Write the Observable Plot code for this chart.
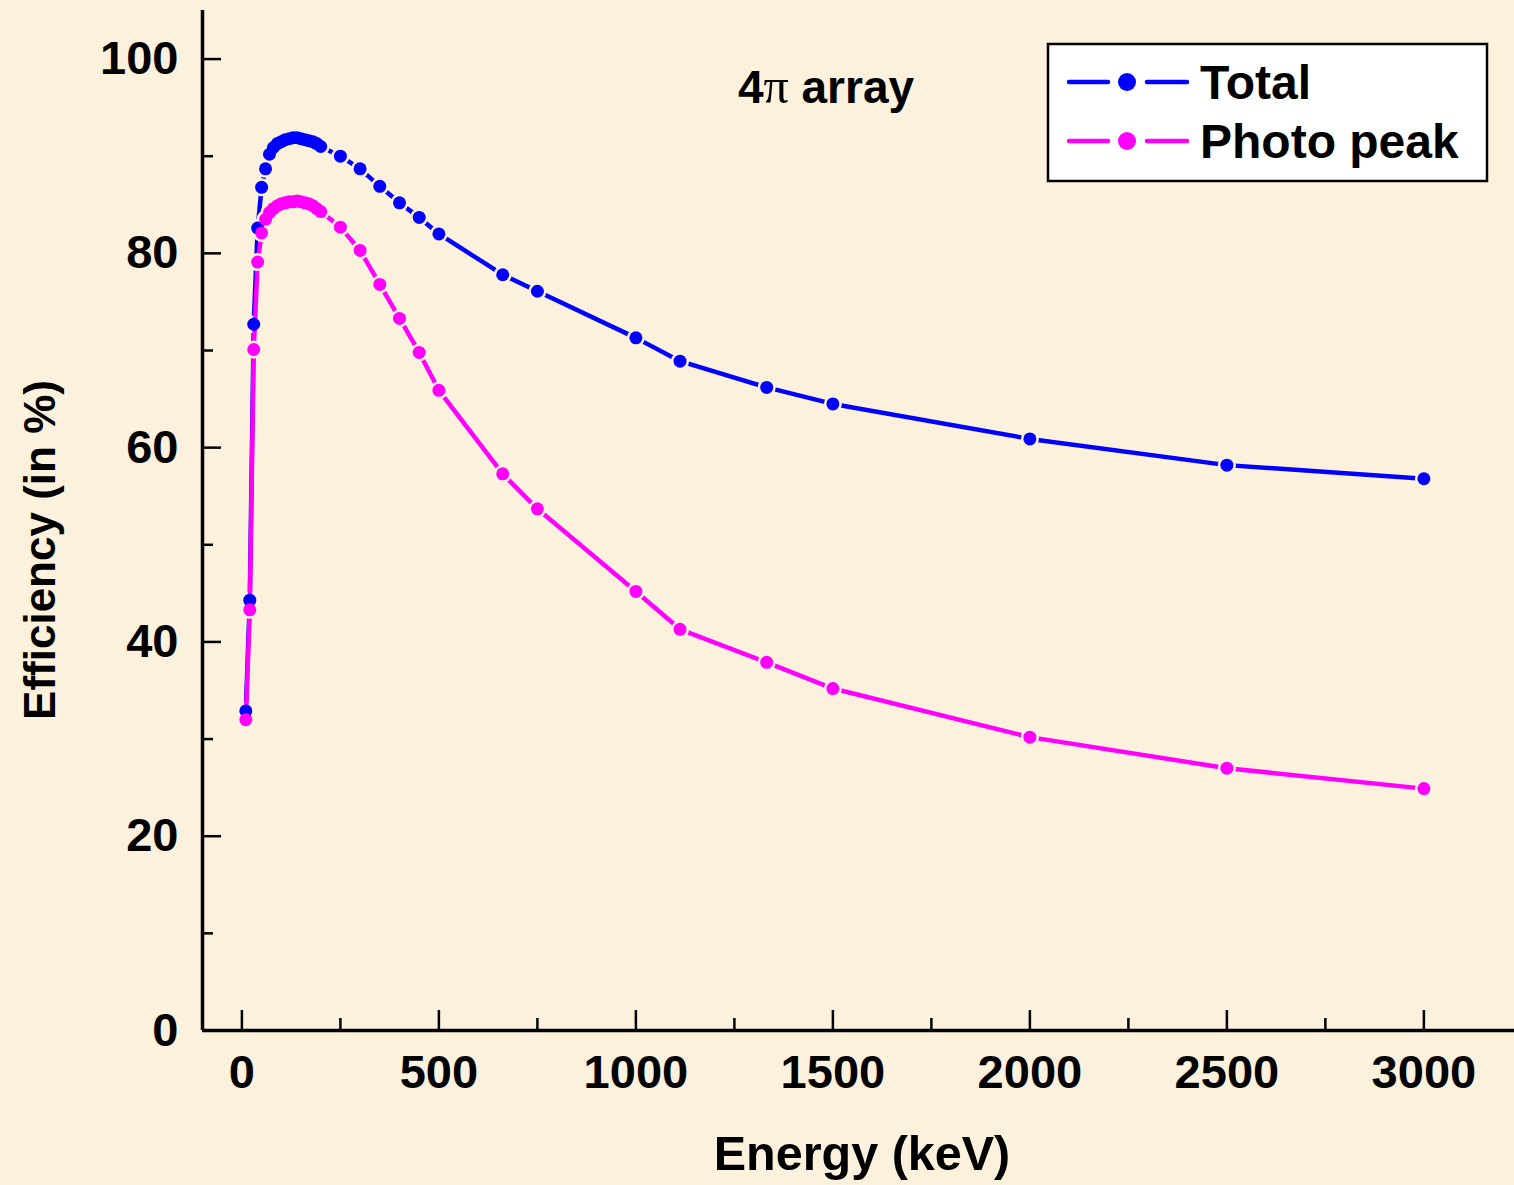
<!DOCTYPE html>
<html><head><meta charset="utf-8">
<script src="https://cdn.jsdelivr.net/npm/d3@7"></script>
<script src="https://cdn.jsdelivr.net/npm/@observablehq/plot@0.6"></script>
<style>
html,body{margin:0;padding:0;background:#FCF1DC;}
#chart{position:relative;width:1514px;height:1185px;}
</style></head><body><div id="chart"></div>
<script>
// ---- data ----
const energy   = [10,20,30,40,50,60,70,80,90,100,110,120,130,140,150,160,170,180,190,200,250,300,350,400,450,500,662,750,1000,1112,1332,1500,2000,2500,3000];
const totalEff = [32.9,44.3,72.7,82.6,86.8,88.7,90.2,90.9,91.3,91.5,91.7,91.8,91.9,91.9,91.8,91.7,91.6,91.5,91.3,91.0,90.0,88.7,86.9,85.2,83.7,82.0,77.8,76.1,71.3,68.9,66.2,64.5,60.9,58.2,56.8];
const photoEff = [32.0,43.3,70.1,79.1,82.1,83.5,84.2,84.6,84.9,85.1,85.2,85.3,85.3,85.4,85.3,85.2,85.1,84.9,84.6,84.3,82.7,80.3,76.8,73.3,69.8,65.9,57.3,53.7,45.2,41.3,37.9,35.2,30.2,27.0,24.9];
const seriesNames  = ["Total","Photo peak"];
const seriesColors = ["#0000FF","#FF00FF"];
const xTicks      = [0,500,1000,1500,2000,2500,3000];
const xMinorTicks = [250,750,1250,1750,2250,2750];
const yTicks      = [0,20,40,60,80,100];
const yMinorTicks = [10,30,50,70,90];
const xDomain = [-100,3230];
const yDomain = [0,105];
const xLabel = "Energy (keV)";
const yLabel = "Efficiency (in %)";
const titleMain = "4";
const titlePi = "π";
const titleRest = " array";

// ---- build table ----
const seriesValues = [totalEff, photoEff];
const rows = [];
seriesNames.forEach((s, k) => energy.forEach((e, i) => rows.push({series: s, energy: e, eff: seriesValues[k][i]})));

const W = 1514, H = 1185, mL = 202, mR = 0, mT = 10, mB = 155;
const frameW = W - mL - mR, frameH = H - mT - mB;
const bg = "#FCF1DC";
const font = "'Liberation Sans', Arial, Helvetica, sans-serif";

const lineMarks = [], haloMarks = [], dotMarks = [];
seriesNames.forEach((s, k) => {
  const d = rows.filter(r => r.series === s);
  lineMarks.push(Plot.line(d, {x: "energy", y: "eff", stroke: seriesColors[k], strokeWidth: 4.5, strokeLinejoin: "round"}));
  haloMarks.push(Plot.dot(d, {x: "energy", y: "eff", r: 9, fill: bg, stroke: "none"}));
  dotMarks.push(Plot.dot(d, {x: "energy", y: "eff", r: 6.5, fill: seriesColors[k], stroke: "none"}));
});

const chart = Plot.plot({
  width: W, height: H,
  marginLeft: mL, marginRight: mR, marginTop: mT, marginBottom: mB,
  style: {background: "transparent", fontFamily: font, overflow: "visible"},
  x: {domain: xDomain},
  y: {domain: yDomain},
  marks: [
    lineMarks[0], haloMarks[0], lineMarks[1], haloMarks[1], dotMarks[0], dotMarks[1],
    Plot.ruleX(xTicks, {x: d => d, insetTop: frameH - 20, stroke: "black", strokeWidth: 2.5}),
    Plot.ruleX(xMinorTicks, {x: d => d, insetTop: frameH - 12, stroke: "black", strokeWidth: 2.5}),
    Plot.ruleY(yTicks, {y: d => d, insetRight: frameW - 19, stroke: "black", strokeWidth: 2.5}),
    Plot.ruleY(yMinorTicks, {y: d => d, insetRight: frameW - 11, stroke: "black", strokeWidth: 2.5}),
    Plot.ruleY([yDomain[0]], {stroke: "black", strokeWidth: 3.5}),
    Plot.ruleX([xDomain[0]], {stroke: "black", strokeWidth: 3.5}),
    Plot.axisX({ticks: xTicks, tickSize: 0, tickPadding: 24, fontSize: 47, fontWeight: "bold", fill: "black", label: null, tickFormat: d => String(d)}),
    Plot.axisY({ticks: yTicks, tickSize: 0, tickPadding: 24, fontSize: 47, fontWeight: "bold", fill: "black", label: null, tickFormat: d => String(d)})
  ]
});
document.getElementById("chart").appendChild(chart);

// ---- titles and legend drawn into the same SVG ----
const svg = d3.select(chart);
svg.append("text").attr("x", mL + frameW / 2 + 4).attr("y", 1170)
  .attr("text-anchor", "middle").attr("font-family", font).attr("font-weight", "bold")
  .attr("font-size", 48.5).attr("fill", "black").text(xLabel);
svg.append("text").attr("transform", "translate(55,550) rotate(-90)")
  .attr("text-anchor", "middle").attr("font-family", font).attr("font-weight", "bold")
  .attr("font-size", 44).attr("fill", "black").text(yLabel);
const t = svg.append("text").attr("x", 826).attr("y", 103).attr("text-anchor", "middle")
  .attr("font-family", font).attr("font-weight", "bold").attr("font-size", 46).attr("fill", "black");
t.append("tspan").text(titleMain);
t.append("tspan").attr("font-family", "'Liberation Serif', 'DejaVu Serif', serif").attr("font-weight", "normal").attr("font-size", 50).text(titlePi);
t.append("tspan").text(titleRest);

const lg = svg.append("g");
lg.append("rect").attr("x", 1048).attr("y", 44).attr("width", 439).attr("height", 137)
  .attr("fill", "white").attr("stroke", "black").attr("stroke-width", 2.5);
seriesNames.forEach((s, k) => {
  const cy = 82 + k * 59;
  lg.append("line").attr("x1", 1069).attr("x2", 1108).attr("y1", cy).attr("y2", cy)
    .attr("stroke", seriesColors[k]).attr("stroke-width", 4.5).attr("stroke-linecap", "round");
  lg.append("line").attr("x1", 1147).attr("x2", 1187).attr("y1", cy).attr("y2", cy)
    .attr("stroke", seriesColors[k]).attr("stroke-width", 4.5).attr("stroke-linecap", "round");
  lg.append("circle").attr("cx", 1127).attr("cy", cy).attr("r", 9).attr("fill", seriesColors[k]);
  lg.append("text").attr("x", 1200).attr("y", cy + 17).attr("text-anchor", "start")
    .attr("font-family", font).attr("font-weight", "bold")
    .attr("font-size", 48).attr("fill", "black").text(s);
});
</script></body></html>
